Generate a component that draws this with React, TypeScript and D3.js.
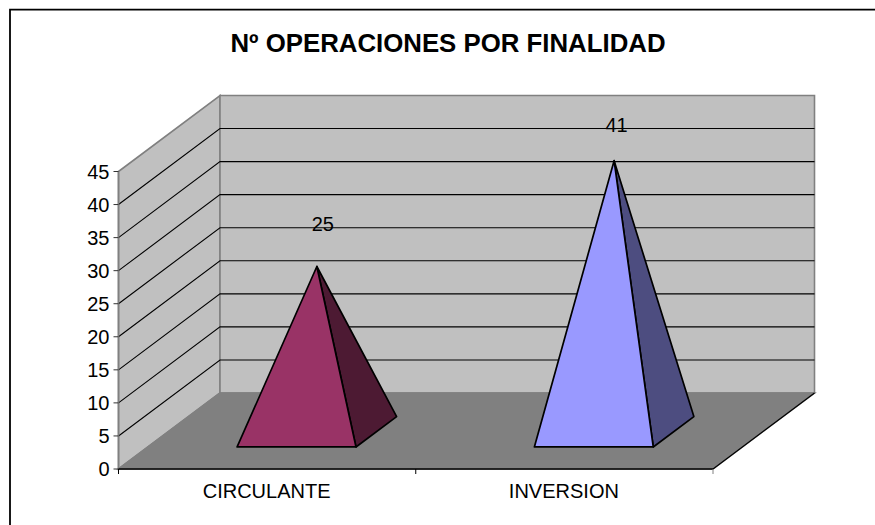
import * as d3 from "d3";

const width = 875;
const height = 525;

const titleText = "Nº OPERACIONES POR FINALIDAD";
const categories = ["CIRCULANTE", "INVERSION"];
const values = [25, 41];
const yTicks = [0, 5, 10, 15, 20, 25, 30, 35, 40, 45];
const frontColors = ["#993366", "#9999ff"];
const sideColors = ["#4d1a33", "#4d4d80"];

const fontFamily = "Liberation Sans, Arial, sans-serif";

const plotLeft = 118.5;
const plotRight = 713;
const plotBottom = 469;
const plotTop = 171.5;
const depthX = 101.5;
const depthY = 76;

const x = d3.scaleBand<string>().domain(categories).range([plotLeft, plotRight]);
const y = d3.scaleLinear().domain([0, 45]).range([plotBottom, plotTop]);

// oblique projection: depth 0 is the front of the floor, 1 is the back wall
const dx = d3.scaleLinear().domain([0, 1]).range([0, depthX]);
const dy = d3.scaleLinear().domain([0, 1]).range([0, -depthY]);
const project = (px: number, py: number, depth: number): [number, number] => [
  px + dx(depth),
  py + dy(depth),
];

const baseFront = 0.29;
const baseBack = 0.69;
const baseShare = 0.4;

// data labels sit where the source chart left them, not at a fixed offset
const labelNudgeX = [5, 1.5];
const labelNudgeY = [-34.5, -28];

const line = d3.line();
const closed = (pts: [number, number][]) => line(pts) + "Z";

const App = () => {
  const floor = closed([
    project(plotLeft, plotBottom, 0),
    project(plotRight, plotBottom, 0),
    project(plotRight, plotBottom, 1),
    project(plotLeft, plotBottom, 1),
  ]);
  const sideWall = closed([
    project(plotLeft, plotBottom, 0),
    project(plotLeft, plotTop, 0),
    project(plotLeft, plotTop, 1),
    project(plotLeft, plotBottom, 1),
  ]);
  const backWall = closed([
    project(plotLeft, plotBottom, 1),
    project(plotLeft, plotTop, 1),
    project(plotRight, plotTop, 1),
    project(plotRight, plotBottom, 1),
  ]);

  return (
    <svg
      width={width}
      height={height}
      viewBox={`0 0 ${width} ${height}`}
      style={{ position: "fixed", left: 0, top: 0, display: "block", background: "#fff" }}
      fontFamily={fontFamily}
    >
      {/* chart frame, runs off the right and bottom of the picture */}
      <path d={`M10 ${height}V9.7H${width}`} fill="none" stroke="#000" strokeWidth={1.8} />

      <text x={448} y={52} textAnchor="middle" fontSize={25.8} fontWeight="bold" fill="#000">
        {titleText}
      </text>

      <path d={sideWall} fill="#c0c0c0" stroke="#808080" strokeWidth={1.6} />
      <path d={backWall} fill="#c0c0c0" stroke="#808080" strokeWidth={1.6} />
      <path d={floor} fill="#808080" stroke="#808080" strokeWidth={1.6} />

      {/* gridlines along side wall and back wall */}
      {yTicks.slice(1, -1).map((t) => {
        const p0 = project(plotLeft, y(t), 0);
        const p1 = project(plotLeft, y(t), 1);
        const p2 = project(plotRight, y(t), 1);
        return (
          <path
            key={t}
            d={d3.line()([p0, p1, p2]) ?? ""}
            fill="none"
            stroke="#000"
            strokeWidth={1.1}
          />
        );
      })}
      <path
        d={d3.line()([project(plotRight, plotBottom, 0), project(plotRight, plotBottom, 1)]) ?? ""}
        stroke="#000"
        strokeWidth={1.2}
      />

      {/* y axis */}
      <line x1={plotLeft} x2={plotLeft} y1={plotTop} y2={plotBottom} stroke="#808080" strokeWidth={1.6} />
      {yTicks.map((t) => (
        <g key={t}>
          <line x1={plotLeft - 5} x2={plotLeft} y1={y(t)} y2={y(t)} stroke="#333" strokeWidth={1} />
          <text x={plotLeft - 9} y={y(t) + 7.3} textAnchor="end" fontSize={20} fill="#000">
            {t}
          </text>
        </g>
      ))}

      {/* x axis */}
      <line x1={plotLeft} x2={plotRight} y1={plotBottom} y2={plotBottom} stroke="#000" strokeWidth={1.5} />
      {[plotLeft, x("INVERSION") as number, plotRight].map((tx, i) => (
        <line
          key={i}
          x1={tx}
          x2={tx}
          y1={plotBottom}
          y2={plotBottom + 5}
          stroke={i === 2 ? "#808080" : "#000"}
          strokeWidth={1}
        />
      ))}
      {categories.map((c) => (
        <text
          key={c}
          x={(x(c) as number) + x.bandwidth() / 2 - 0.5}
          y={498}
          textAnchor="middle"
          fontSize={20}
          fill="#000"
        >
          {c}
        </text>
      ))}

      {/* pyramids */}
      {categories.map((c, i) => {
        const center = (x(c) as number) + x.bandwidth() / 2;
        const half = (x.bandwidth() * baseShare) / 2;
        const midDepth = (baseFront + baseBack) / 2;
        const apex = project(center, y(values[i]), midDepth);
        const frontLeft = project(center - half, plotBottom, baseFront);
        const frontRight = project(center + half, plotBottom, baseFront);
        const backRight = project(center + half, plotBottom, baseBack);
        return (
          <g key={c} stroke="#000" strokeWidth={1.7} strokeLinejoin="round">
            <path d={closed([frontRight, backRight, apex])} fill={sideColors[i]} />
            <path d={closed([frontLeft, frontRight, apex])} fill={frontColors[i]} />
          </g>
        );
      })}

      {/* data labels */}
      {categories.map((c, i) => {
        const center = (x(c) as number) + x.bandwidth() / 2;
        const pos = project(center, y(values[i]), 0.5);
        return (
          <text
            key={c}
            x={pos[0] + labelNudgeX[i]}
            y={pos[1] + labelNudgeY[i]}
            textAnchor="middle"
            fontSize={20}
            fill="#000"
          >
            {values[i]}
          </text>
        );
      })}
    </svg>
  );
};

export default App;
